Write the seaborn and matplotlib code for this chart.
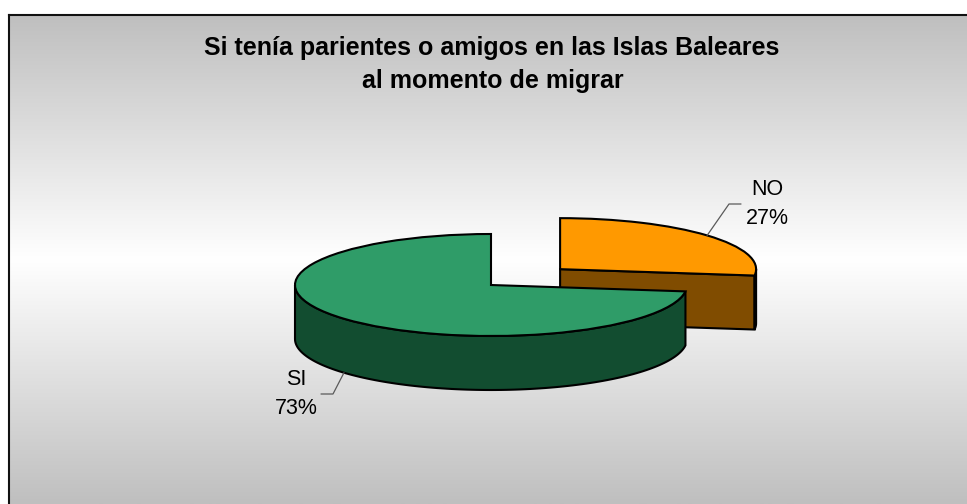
import numpy as np
import matplotlib
matplotlib.use("Agg")
import matplotlib.pyplot as plt
from matplotlib.colors import LinearSegmentedColormap
import seaborn as sns

categories = ["NO", "SI"]
values = [27, 73]
explode = [0.47, 0.0]
title_lines = ["Si tenía parientes o amigos en las Islas Baleares", "al momento de migrar"]

top_colors = sns.color_palette(["#FF9900", "#2F9C68"])
side_colors = sns.color_palette(["#804C00", "#124D30"])

sns.set_theme(style="white")
plt.rcParams["font.family"] = ["Liberation Sans", "DejaVu Sans"]

W, H = 967, 504
fig = plt.figure(figsize=(W / 100, H / 100), dpi=100, facecolor="white")

# gradient panel (runs off the right and bottom of the picture)
bg = fig.add_axes([9 / W, 0, 1, (H - 15) / H], zorder=0)
cmap = LinearSegmentedColormap.from_list("g", ["#BFBFBF", "#FFFFFF", "#BFBFBF"])
bg.imshow(np.linspace(0, 1, 256)[:, None], aspect="auto", cmap=cmap, vmin=0, vmax=1)
bg.set_xticks([]); bg.set_yticks([])
for s in ("right", "bottom"):
    bg.spines[s].set_visible(False)
for s in ("left", "top"):
    bg.spines[s].set_color("#111111")
    bg.spines[s].set_linewidth(1.5)

ax = fig.add_axes([0, 0, 1, 1], zorder=1)
ax.patch.set_alpha(0)

LW = 1.5
CX, CY, RX, RY = 491, 285, 196, 51
DEPTH = 54 / RY

wedges, _ = ax.pie(values, explode=explode, startangle=90, counterclock=False,
                   colors=top_colors, frame=True,
                   wedgeprops=dict(edgecolor="black", linewidth=LW, zorder=5))
ax.set_aspect("auto")
ax.set_xlim((0 - CX) / RX, (W - CX) / RX)
ax.set_ylim((CY - H) / RY, (CY - 0) / RY)
ax.axis("off")


def px(x, y):
    return (x - CX) / RX, (CY - y) / RY


# clockwise-from-top angle boundaries of each slice
ends = np.cumsum(values) / sum(values) * 2 * np.pi
starts = ends - np.array(values) / sum(values) * 2 * np.pi
mids = (starts + ends) / 2
ox = np.array(explode) * np.sin(mids)
oy = np.array(explode) * np.cos(mids)


def wall(xs, ys, color, z):
    poly = np.column_stack([np.r_[xs, xs[::-1]], np.r_[ys, ys[::-1] - DEPTH]])
    ax.fill(poly[:, 0], poly[:, 1], facecolor=color, edgecolor="black", linewidth=LW, zorder=z)


# NO slice: cut face, then the sliver of outer wall at the right
end_x, end_y = np.sin(ends[0]) + ox[0], np.cos(ends[0]) + oy[0]
wall(np.array([ox[0], end_x]), np.array([oy[0], end_y]), side_colors[0], 2)
t = np.linspace(np.pi / 2, ends[0], 8)
wall(np.sin(t) + ox[0], np.cos(t) + oy[0], "black", 3)
wedges[0].set_zorder(4)

# SI slice: front outer wall
t = np.linspace(starts[1], 3 * np.pi / 2, 120)
wall(np.sin(t) + ox[1], np.cos(t) + oy[1], side_colors[1], 5)
wedges[1].set_zorder(6)

# labels with leader lines
GREY = "#5A5A5A"
lx, ly = np.sin(mids) + ox, np.cos(mids) + oy
ax.plot([lx[0], px(729, 204)[0], px(741, 204)[0]],
        [ly[0], px(729, 204)[1], px(741, 204)[1]], color=GREY, lw=0.9, zorder=7)
ax.plot([lx[1], px(333, 394)[0], px(321, 394)[0]],
        [ly[1] - DEPTH, px(333, 394)[1], px(321, 394)[1]], color=GREY, lw=0.9, zorder=7)

for i, pos in enumerate([(767, 224), (296, 414)]):
    ax.text(*px(*pos), f"{categories[i]}\n{values[i]}%", ha="center", va="baseline",
            fontsize=15.5, color="black", linespacing=1.53, zorder=8)

ax.text(*px(492, 55), title_lines[0], ha="center", va="baseline", fontsize=18,
        fontweight="bold", color="black", zorder=8)
ax.text(*px(493, 88), title_lines[1], ha="center", va="baseline", fontsize=18,
        fontweight="bold", color="black", zorder=8)

fig.savefig("out.png", dpi=100, facecolor="white")
